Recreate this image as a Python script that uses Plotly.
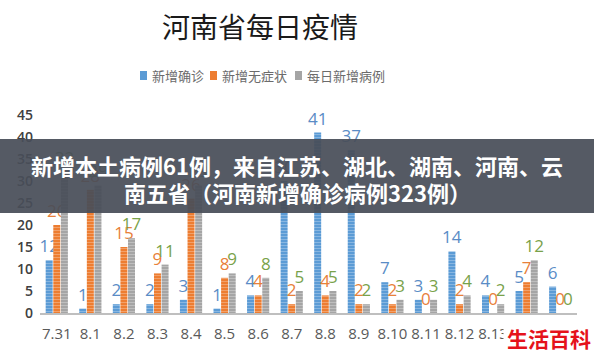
import plotly.graph_objects as go

dates = ["7.31", "8.1", "8.2", "8.3", "8.4", "8.5", "8.6", "8.7", "8.8", "8.9",
         "8.10", "8.11", "8.12", "8.13", "8.14", "8.15"]
confirmed = [12, 1, 2, 2, 3, 1, 4, 30, 41, 37, 7, 3, 14, 4, 5, 6]
asymptomatic = [20, 28, 15, 9, 26, 8, 4, 2, 4, 2, 2, 0, 2, 0, 7, 0]
daily_total = [32, 29, 17, 11, 29, 9, 8, 5, 5, 2, 3, 3, 4, 2, 12, 0]
series_names = ["新增确诊", "新增无症状", "每日新增病例"]
y_ticks = [0, 5, 10, 15, 20, 25, 30, 35, 40, 45]

W, H = 594, 354
ML, MR, MT, MB = 40, 17, 115, 41
PW, PH = W - ML - MR, H - MT - MB

def px_x(p):
    return (p - ML) / PW

def px_y(p):
    return (H - MB - p) / PH

font_cjk = "Noto Sans CJK SC, Noto Sans, sans-serif"
colors = ["#5B9BD5", "#ED7D31", "#A5A5A5"]
label_colors = ["#5A8CC6", "#E8803A", "#79A24A"]

fig = go.Figure()
for name, vals, c, lc in zip(series_names, [confirmed, asymptomatic, daily_total], colors, label_colors):
    fig.add_trace(go.Bar(
        x=dates, y=vals, name=name,
        marker=dict(color=c, line=dict(width=0),
                    pattern=dict(shape="-", fgcolor="rgba(255,255,255,0.55)", size=3, solidity=0.35)),
        text=[str(v) for v in vals], textposition="outside",
        textfont=dict(color=lc, size=17, family="Open Sans, sans-serif"),
        cliponaxis=False, showlegend=False,
    ))

fig.update_layout(
    width=W, height=H,
    margin=dict(l=ML, r=MR, t=MT, b=MB),
    paper_bgcolor="white", plot_bgcolor="white",
    barmode="group", bargap=0.32, bargroupgap=0.08,
    showlegend=False,
    title=dict(text="河南省每日疫情", x=260 / W, xanchor="center", xref="container",
               y=1 - 28 / H, yanchor="middle", yref="container",
               font=dict(size=28, color="#1a1a1a", family=font_cjk)),
    xaxis=dict(type="category", showgrid=False, showline=True, linecolor="#BFBFBF", linewidth=1.5,
               ticks="", tickfont=dict(size=15, color="#595959", family="Open Sans, sans-serif"),
               ticklabelstandoff=6),
    yaxis=dict(range=[0, 45], tickvals=y_ticks, showgrid=False, showline=False, zeroline=False,
               ticks="", tickfont=dict(size=14, color="#404040", family="Open Sans, sans-serif", weight=600),
               ticklabelstandoff=6),
    uniformtext=dict(mode="show", minsize=17),
)

# Legend (drawn manually to match compact spacing)
legend_sq_x = [140, 210, 295]
for name, c, sx in zip(series_names, colors, legend_sq_x):
    fig.add_shape(type="rect", xref="paper", yref="paper",
                  x0=px_x(sx), x1=px_x(sx + 7), y0=px_y(80), y1=px_y(71),
                  fillcolor=c, line=dict(width=0))
    fig.add_annotation(xref="paper", yref="paper", x=px_x(sx + 10), y=px_y(75.5),
                       xanchor="left", yanchor="middle", text=name, showarrow=False,
                       font=dict(size=13, color="#6b6b6b", family=font_cjk))

# Overlay banner
fig.add_shape(type="rect", xref="paper", yref="paper",
              x0=px_x(0), x1=px_x(W), y0=px_y(213), y1=px_y(139),
              fillcolor="rgba(72,78,88,0.93)", line=dict(width=0), layer="above")
fig.add_annotation(xref="paper", yref="paper", x=px_x(297), y=px_y(165),
                   xanchor="center", yanchor="middle",
                   text="<b>新增本土病例61例，来自江苏、湖北、湖南、河南、云</b>",
                   showarrow=False, font=dict(size=22, color="white", family=font_cjk))
fig.add_annotation(xref="paper", yref="paper", x=px_x(297), y=px_y(192),
                   xanchor="center", yanchor="middle",
                   text="<b>南五省（河南新增确诊病例323例）</b>",
                   showarrow=False, font=dict(size=22, color="white", family=font_cjk))
# Watermark
fig.add_annotation(xref="paper", yref="paper", x=px_x(549), y=px_y(338),
                   xanchor="center", yanchor="middle",
                   text="<b>生活百科</b>", showarrow=False, bgcolor="white", borderpad=3,
                   font=dict(size=21, color="#E5121B", family=font_cjk))

fig.write_html("out.html")
